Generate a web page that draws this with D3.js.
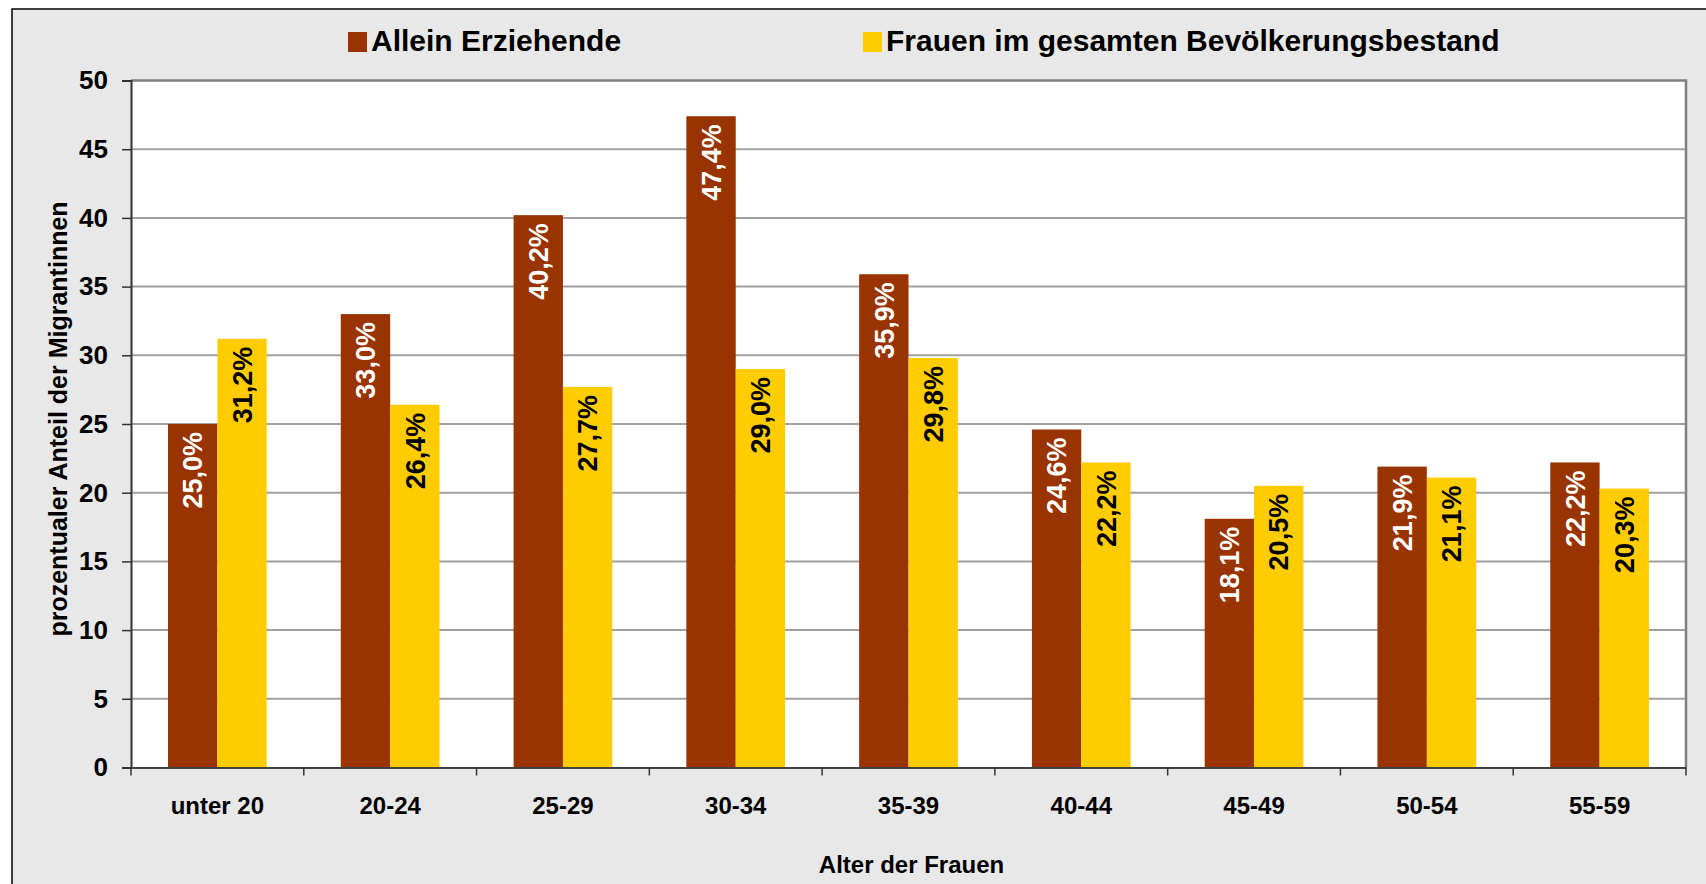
<!DOCTYPE html>
<html>
<head>
<meta charset="utf-8">
<script src="https://cdn.jsdelivr.net/npm/d3@7"></script>
<style>
  html, body { margin: 0; padding: 0; background: #fff; overflow: hidden; }
  svg { display: block; font-family: "Liberation Sans", Arial, sans-serif; font-weight: bold; }
</style>
</head>
<body>
<svg id="chart"></svg>
<script>
const categories = ["unter 20", "20-24", "25-29", "30-34", "35-39", "40-44", "45-49", "50-54", "55-59"];
const seriesNames = ["Allein Erziehende", "Frauen im gesamten Bevölkerungsbestand"];
const alleinErziehende = [25.0, 33.0, 40.2, 47.4, 35.9, 24.6, 18.1, 21.9, 22.2];
const frauenGesamt = [31.2, 26.4, 27.7, 29.0, 29.8, 22.2, 20.5, 21.1, 20.3];
const yTicks = [0, 5, 10, 15, 20, 25, 30, 35, 40, 45, 50];

const width = 1706;
const height = 884;
const plot = { left: 131, top: 80.5, right: 1686, bottom: 767.5 };

const colors = ["#993300", "#FFCC00"];
const labelColors = ["#ffffff", "#000000"];

const svg = d3.select("#chart")
    .attr("width", width)
    .attr("height", height);

// chart area
svg.append("rect")
    .attr("x", 12).attr("y", 9)
    .attr("width", width).attr("height", height)
    .attr("fill", "#e8e8e8")
    .attr("stroke", "#000")
    .attr("stroke-width", 1.5);

const x0 = d3.scaleBand()
    .domain(categories)
    .range([plot.left, plot.right])
    .padding(0);

// Excel style gap: bars take 2 of 3.5 parts of the band
const gap = x0.bandwidth() * 1.5 / 3.5;
const x1 = d3.scaleBand()
    .domain(d3.range(seriesNames.length))
    .range([gap / 2, x0.bandwidth() - gap / 2])
    .padding(0);

const y = d3.scaleLinear()
    .domain([0, 50])
    .range([plot.bottom, plot.top]);

// plot area
svg.append("rect")
    .attr("x", plot.left).attr("y", plot.top)
    .attr("width", plot.right - plot.left)
    .attr("height", plot.bottom - plot.top)
    .attr("fill", "#fff");

// gridlines
svg.append("g")
    .selectAll("line")
    .data(yTicks.filter(t => t > 0 && t < 50))
    .join("line")
    .attr("x1", plot.left).attr("x2", plot.right)
    .attr("y1", d => y(d)).attr("y2", d => y(d))
    .attr("stroke", "#a0a0a0")
    .attr("stroke-width", 2);

// plot border top / right
svg.append("path")
    .attr("d", `M${plot.left},${plot.top}H${plot.right}V${plot.bottom}`)
    .attr("fill", "none")
    .attr("stroke", "#808080")
    .attr("stroke-width", 2.5);

// bars
const series = [alleinErziehende, frauenGesamt];
const rows = categories.map((c, i) => ({
    cat: c,
    values: series.map((s, k) => ({ k, v: s[i] }))
}));

const group = svg.append("g")
    .selectAll("g")
    .data(rows)
    .join("g")
    .attr("transform", d => `translate(${x0(d.cat)},0)`);

group.selectAll("rect")
    .data(d => d.values)
    .join("rect")
    .attr("x", d => x1(d.k))
    .attr("y", d => y(d.v))
    .attr("width", x1.bandwidth())
    .attr("height", d => y(0) - y(d.v))
    .attr("fill", d => colors[d.k]);

const fmt = v => d3.format(".1f")(v).replace(".", ",") + "%";

group.selectAll("text")
    .data(d => d.values)
    .join("text")
    .attr("transform", d => `translate(${x1(d.k) + x1.bandwidth() / 2},${y(d.v) + 8}) rotate(-90)`)
    .attr("text-anchor", "end")
    .attr("dy", "0.36em")
    .attr("font-size", 27)
    .attr("fill", d => labelColors[d.k])
    .text(d => fmt(d.v));

// y axis
const yAxis = svg.append("g")
    .attr("transform", `translate(${plot.left},0)`)
    .call(d3.axisLeft(y).tickValues(yTicks).tickSize(9).tickPadding(14));
yAxis.select(".domain").attr("stroke", "#333").attr("stroke-width", 2);
yAxis.selectAll(".tick line").attr("stroke", "#333").attr("stroke-width", 1.5);
yAxis.selectAll(".tick text")
    .attr("font-size", 26)
    .attr("font-family", "Liberation Sans, Arial, sans-serif")
    .attr("font-weight", "bold")
    .attr("fill", "#000");

// x axis
const xAxis = svg.append("g")
    .attr("transform", `translate(0,${plot.bottom})`)
    .call(d3.axisBottom(x0).tickSize(0).tickPadding(29));
xAxis.select(".domain").attr("stroke", "#404040").attr("stroke-width", 2);
xAxis.selectAll(".tick text")
    .attr("font-size", 24)
    .attr("font-family", "Liberation Sans, Arial, sans-serif")
    .attr("font-weight", "bold")
    .attr("fill", "#000");

xAxis.selectAll(".sep")
    .data(categories.map(c => x0(c)).concat([x0.range()[1]]))
    .join("line")
    .attr("class", "sep")
    .attr("x1", d => d).attr("x2", d => d)
    .attr("y1", 0).attr("y2", 8)
    .attr("stroke", "#333")
    .attr("stroke-width", 1.5);

// axis titles
svg.append("text")
    .attr("x", (plot.left + plot.right) / 2 + 3)
    .attr("y", 873)
    .attr("text-anchor", "middle")
    .attr("font-size", 24)
    .text("Alter der Frauen");

svg.append("text")
    .attr("transform", `translate(67,419) rotate(-90)`)
    .attr("text-anchor", "middle")
    .attr("font-size", 25)
    .text("prozentualer Anteil der Migrantinnen");

// legend
const legendX = [348, 863];
const legend = svg.append("g")
    .selectAll("g")
    .data(seriesNames)
    .join("g")
    .attr("transform", (d, i) => `translate(${legendX[i]},32)`);

legend.append("rect")
    .attr("width", 19).attr("height", 20)
    .attr("fill", (d, i) => colors[i]);

legend.append("text")
    .attr("x", 23)
    .attr("y", 19)
    .attr("font-size", 30)
    .text(d => d);
</script>
</body>
</html>
